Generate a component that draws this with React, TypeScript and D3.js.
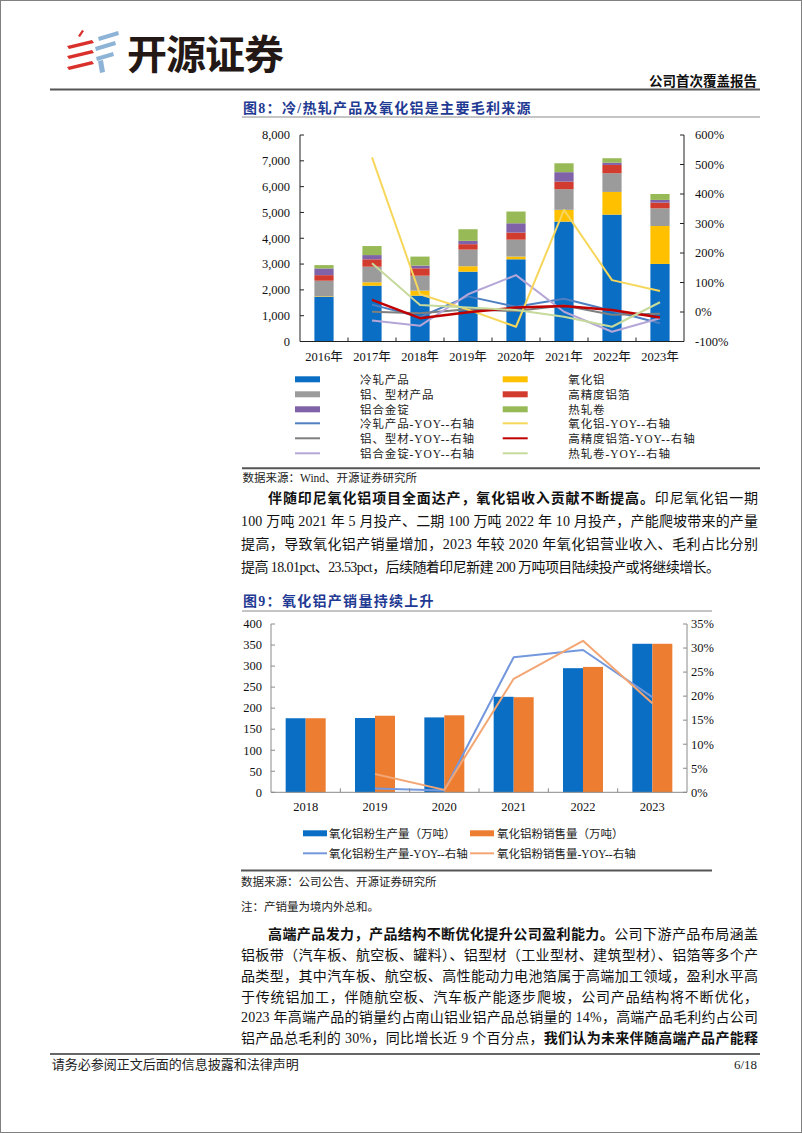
import React from 'react';
import * as d3 from 'd3';

const SERIF = "'Liberation Serif','Times New Roman','Noto Sans CJK SC',serif";
const CJK = "'Noto Sans CJK SC','Noto Sans CJK JP',sans-serif";

// ---------- Figure 8 data ----------
const years8 = ['2016年', '2017年', '2018年', '2019年', '2020年', '2021年', '2022年', '2023年'];
const coldRolled = [1735, 2163, 1775, 2705, 3185, 4645, 4915, 3005];
const alumina = [20, 130, 195, 210, 105, 455, 880, 1470];
const profile = [600, 605, 580, 645, 655, 800, 725, 685];
const foil = [215, 285, 285, 210, 275, 295, 320, 220];
const ingot = [260, 165, 105, 130, 360, 365, 90, 105];
const hotRolled = [130, 350, 350, 450, 455, 345, 170, 230];

const yoyCold = [null, 25, -17, 53, 18, 45, 4, -38];
const yoyAlumina = [null, 524, 60, 8, -50, 346, 108, 71];
const yoyProfile = [null, 1, -4, 9, 3, 22, -9, -6];
const yoyFoil = [null, 41, -21, -1, 15, 20, 7, -19];
const yoyIngot = [null, -29, -47, 60, 125, 1, -67, -21];
const yoyHot = [null, 165, 24, 15, 7, -16, -50, 33];

const leftTicks8 = [0, 1000, 2000, 3000, 4000, 5000, 6000, 7000, 8000];
const rightTicks8 = [-100, 0, 100, 200, 300, 400, 500, 600];

// ---------- Figure 9 data ----------
const years9 = ['2018', '2019', '2020', '2021', '2022', '2023'];
const production = [176, 176.5, 178, 227, 295, 353];
const sales = [176, 182, 183, 226, 298, 353];
const prodYoy = [null, 0.8, 0.4, 28.1, 29.6, 19.8];
const salesYoy = [null, 3.8, 0.5, 23.6, 31.5, 18.5];
const leftTicks9 = [0, 50, 100, 150, 200, 250, 300, 350, 400];
const rightTicks9 = [0, 5, 10, 15, 20, 25, 30, 35];

const C = {
  cold: '#0A6EC4', alumina: '#FFC000', profile: '#9B9B9B', foil: '#D23C2E', ingot: '#7F62A8', hot: '#97BA57',
  lCold: '#4D7FC2', lAlumina: '#F6D75C', lProfile: '#7F7F7F', lFoil: '#C00000', lIngot: '#B5A6D8', lHot: '#C6DA9C',
  blue9: '#0A6EC4', orange9: '#ED7D31', lBlue9: '#7498DD', lOrange9: '#F3A674',
};

const stackSeries = [
  { key: 'cold', name: '冷轧产品', values: coldRolled, color: C.cold },
  { key: 'alumina', name: '氧化铝', values: alumina, color: C.alumina },
  { key: 'profile', name: '铝、型材产品', values: profile, color: C.profile },
  { key: 'foil', name: '高精度铝箔', values: foil, color: C.foil },
  { key: 'ingot', name: '铝合金锭', values: ingot, color: C.ingot },
  { key: 'hot', name: '热轧卷', values: hotRolled, color: C.hot },
];
const lineSeries8 = [
  { name: '冷轧产品-YOY--右轴', values: yoyCold, color: C.lCold, w: 2 },
  { name: '铝、型材-YOY--右轴', values: yoyProfile, color: C.lProfile, w: 2 },
  { name: '铝合金锭-YOY--右轴', values: yoyIngot, color: C.lIngot, w: 2 },
  { name: '氧化铝-YOY--右轴', values: yoyAlumina, color: C.lAlumina, w: 2 },
  { name: '高精度铝箔-YOY--右轴', values: yoyFoil, color: C.lFoil, w: 2.5 },
  { name: '热轧卷-YOY--右轴', values: yoyHot, color: C.lHot, w: 2 },
];

type Seg = { t: string; b?: boolean };
type Line = { x: number; y: number; w: number; segs: Seg[] };

const para1: Line[] = [
  { x: 268, y: 503, w: 490, segs: [{ t: '伴随印尼氧化铝项目全面达产，氧化铝收入贡献不断提高。', b: true }, { t: '印尼氧化铝一期' }] },
  { x: 241, y: 526, w: 517, segs: [{ t: '100 万吨 2021 年 5 月投产、二期 100 万吨 2022 年 10 月投产，产能爬坡带来的产量' }] },
  { x: 241, y: 549, w: 517, segs: [{ t: '提高，导致氧化铝产销量增加，2023 年较 2020 年氧化铝营业收入、毛利占比分别' }] },
  { x: 241, y: 572, w: 479, segs: [{ t: '提高 18.01pct、23.53pct，后续随着印尼新建 200 万吨项目陆续投产或将继续增长。' }] },
];
const para2: Line[] = [
  { x: 268, y: 939, w: 490, segs: [{ t: '高端产品发力，产品结构不断优化提升公司盈利能力。', b: true }, { t: '公司下游产品布局涵盖' }] },
  { x: 241, y: 960, w: 517, segs: [{ t: '铝板带（汽车板、航空板、罐料）、铝型材（工业型材、建筑型材）、铝箔等多个产' }] },
  { x: 241, y: 981, w: 517, segs: [{ t: '品类型，其中汽车板、航空板、高性能动力电池箔属于高端加工领域，盈利水平高' }] },
  { x: 241, y: 1001.5, w: 517, segs: [{ t: '于传统铝加工，伴随航空板、汽车板产能逐步爬坡，公司产品结构将不断优化，' }] },
  { x: 241, y: 1022, w: 517, segs: [{ t: '2023 年高端产品的销量约占南山铝业铝产品总销量的 14%，高端产品毛利约占公司' }] },
  { x: 241, y: 1043, w: 517, segs: [{ t: '铝产品总毛利的 30%，同比增长近 9 个百分点，' }, { t: '我们认为未来伴随高端产品产能释', b: true }] },
];

function Para({ lines }: { lines: Line[] }) {
  return (
    <g fontFamily={SERIF} fontSize={14} fill="#111">
      {lines.map((l, i) => (
        <text key={i} x={l.x} y={l.y} textLength={l.w} lengthAdjust="spacing">
          {l.segs.map((s, j) => (
            <tspan key={j} fontWeight={s.b ? 700 : 400}>{s.t}</tspan>
          ))}
        </text>
      ))}
    </g>
  );
}

function Figure8() {
  const x = d3.scaleBand().domain(years8).range([300, 684]).padding(0);
  const y = d3.scaleLinear().domain([0, 8000]).range([341.5, 135]);
  const yr = d3.scaleLinear().domain([-100, 600]).range([341.5, 135]);
  const rows = years8.map((yr0, i) => {
    const r: any = { year: yr0 };
    stackSeries.forEach((s) => (r[s.key] = s.values[i]));
    return r;
  });
  const stacked = d3.stack().keys(stackSeries.map((s) => s.key))(rows);
  const bw = x.bandwidth() * 0.4;
  const cx = (d: string) => (x(d) as number) + x.bandwidth() / 2;
  const line = d3
    .line<number | null>()
    .defined((d) => d != null)
    .x((_, i) => cx(years8[i]))
    .y((d) => yr(d as number));
  const axisColor = '#222';
  const legendRowsY = [379.3, 394.3, 409.3, 423.3, 438.3, 453.3];
  const leftItems = [
    { kind: 'bar', ...stackSeries[0] },
    { kind: 'bar', ...stackSeries[2] },
    { kind: 'bar', ...stackSeries[4] },
    { kind: 'line', ...lineSeries8[0] },
    { kind: 'line', ...lineSeries8[1] },
    { kind: 'line', ...lineSeries8[2] },
  ];
  const rightItems = [
    { kind: 'bar', ...stackSeries[1] },
    { kind: 'bar', ...stackSeries[3] },
    { kind: 'bar', ...stackSeries[5] },
    { kind: 'line', ...lineSeries8[3] },
    { kind: 'line', ...lineSeries8[4] },
    { kind: 'line', ...lineSeries8[5] },
  ];
  const renderLegend = (items: any[], sx: number, tx: number) =>
    items.map((it, i) => (
      <g key={it.name}>
        {it.kind === 'bar' ? (
          <rect x={sx} y={legendRowsY[i] - 3} width={25} height={6} fill={it.color} />
        ) : (
          <line x1={sx} x2={sx + 25} y1={legendRowsY[i]} y2={legendRowsY[i]} stroke={it.color} strokeWidth={2} />
        )}
        <text x={tx} y={legendRowsY[i] + 4.2} fontFamily={SERIF} fontSize={11.5} letterSpacing={0.9} fill="#222">
          {it.name}
        </text>
      </g>
    ));
  return (
    <g>
      {stacked.map((layer, li) => (
        <g key={layer.key} fill={stackSeries[li].color}>
          {layer.map((d: any, i: number) => (
            <rect key={i} x={cx(years8[i]) - bw / 2} y={y(d[1])} width={bw} height={Math.max(0, y(d[0]) - y(d[1]))} />
          ))}
        </g>
      ))}
      {lineSeries8.map((s) => (
        <path key={s.name} d={line(s.values) || ''} fill="none" stroke={s.color} strokeWidth={s.w} strokeLinejoin="round" />
      ))}
      <line x1={300} x2={300} y1={135} y2={341.5} stroke={axisColor} />
      <line x1={684} x2={684} y1={135} y2={341.5} stroke={axisColor} />
      <line x1={300} x2={684} y1={341.5} y2={341.5} stroke={axisColor} />
      {leftTicks8.map((t) => (
        <g key={t}>
          <line x1={300} x2={304} y1={y(t)} y2={y(t)} stroke={axisColor} />
          <text x={290} y={y(t) + 4.3} textAnchor="end" fontFamily={SERIF} fontSize={12.5} fill="#111">
            {d3.format(',')(t)}
          </text>
        </g>
      ))}
      {rightTicks8.map((t) => (
        <g key={t}>
          <line x1={680} x2={684} y1={yr(t)} y2={yr(t)} stroke={axisColor} />
          <text x={695} y={yr(t) + 4.3} fontFamily={SERIF} fontSize={12.5} fill="#111">
            {t}%
          </text>
        </g>
      ))}
      {years8.map((d, i) => (
        <g key={d}>
          {i > 0 && <line x1={x(d)} x2={x(d)} y1={341.5} y2={337.5} stroke={axisColor} />}
          <text x={cx(d)} y={361} textAnchor="middle" fontFamily={SERIF} fontSize={12.5} fill="#111">
            {d}
          </text>
        </g>
      ))}
      {renderLegend(leftItems, 295, 360)}
      {renderLegend(rightItems, 502.7, 568.3)}
    </g>
  );
}

function Figure9() {
  const x = d3.scaleBand().domain(years9).range([271, 687]).padding(0);
  const inner = d3.scaleBand().domain(['p', 's']).range([0, 40]).padding(0);
  const y = d3.scaleLinear().domain([0, 400]).range([792.3, 624]);
  const yr = d3.scaleLinear().domain([0, 35]).range([792.3, 624]);
  const cx = (d: string) => (x(d) as number) + x.bandwidth() / 2;
  const line = d3
    .line<number | null>()
    .defined((d) => d != null)
    .x((_, i) => cx(years9[i]))
    .y((d) => yr(d as number));
  const ax = '#8a8a8a';
  const bars = [
    { k: 'p', values: production, color: C.blue9 },
    { k: 's', values: sales, color: C.orange9 },
  ];
  return (
    <g>
      {bars.map((b) => (
        <g key={b.k} fill={b.color}>
          {b.values.map((v, i) => (
            <rect key={i} x={cx(years9[i]) - 20 + (inner(b.k) as number)} y={y(v)} width={inner.bandwidth()} height={y(0) - y(v)} />
          ))}
        </g>
      ))}
      <path d={line(prodYoy) || ''} fill="none" stroke={C.lBlue9} strokeWidth={2} strokeLinejoin="round" />
      <path d={line(salesYoy) || ''} fill="none" stroke={C.lOrange9} strokeWidth={2} strokeLinejoin="round" />
      <line x1={271} x2={271} y1={624} y2={792.3} stroke={ax} />
      <line x1={687} x2={687} y1={624} y2={792.3} stroke={ax} />
      <line x1={271} x2={687} y1={792.3} y2={792.3} stroke={ax} />
      {leftTicks9.map((t) => (
        <g key={t}>
          <line x1={271} x2={275} y1={y(t)} y2={y(t)} stroke={ax} />
          <text x={262} y={y(t) + 4.3} textAnchor="end" fontFamily={SERIF} fontSize={12.5} fill="#111">
            {t}
          </text>
        </g>
      ))}
      {rightTicks9.map((t) => (
        <g key={t}>
          <line x1={683} x2={687} y1={yr(t)} y2={yr(t)} stroke={ax} />
          <text x={691} y={yr(t) + 4.3} fontFamily={SERIF} fontSize={12.5} fill="#111">
            {t}%
          </text>
        </g>
      ))}
      {years9.map((d, i) => (
        <g key={d}>
          {i > 0 && <line x1={x(d)} x2={x(d)} y1={792.3} y2={788.3} stroke={ax} />}
          <text x={cx(d)} y={811} textAnchor="middle" fontFamily={SERIF} fontSize={12.5} fill="#111">
            {d}
          </text>
        </g>
      ))}
      <g fontFamily={SERIF} fontSize={11.5} fill="#222">
        <rect x={303} y={830.3} width={24} height={6} fill={C.blue9} />
        <text x={329} y={837.5}>氧化铝粉生产量（万吨）</text>
        <rect x={470} y={830.3} width={24} height={6} fill={C.orange9} />
        <text x={497} y={837.5}>氧化铝粉销售量（万吨）</text>
        <line x1={303} x2={327} y1={853.3} y2={853.3} stroke={C.lBlue9} strokeWidth={2} />
        <text x={329} y={857.5}>氧化铝粉生产量-YOY--右轴</text>
        <line x1={470} x2={494} y1={853.3} y2={853.3} stroke={C.lOrange9} strokeWidth={2} />
        <text x={497} y={857.5}>氧化铝粉销售量-YOY--右轴</text>
      </g>
    </g>
  );
}

function Logo() {
  return (
    <g>
      <g fill="#D9302B">
        <polygon points="78,36 82,30 84,31 80,37" />
        <polygon points="67,46 92,40 94,43 69,49" />
        <polygon points="67,56 92,50 94,53 69,59" />
        <polygon points="67,67 92,61 94,64 69,70" />
      </g>
      <g fill="#8DB4D6">
        <polygon points="98,37 118,31 119,35 99,41" />
        <polygon points="95,47 115,41 116,45 96,51" />
        <polygon points="96,57 113,52 114,56 97,61" />
        <polygon points="98,61 103,60 105,72 100,73" />
      </g>
      <text x={127} y={69} fontFamily={CJK} fontWeight={700} fontSize={40} textLength={157} lengthAdjust="spacing" fill="#231815">
        开源证券
      </text>
    </g>
  );
}

export default function App() {
  React.useEffect(() => {
    document.body.style.margin = '0';
  }, []);
  return (
    <svg width={802} height={1133} viewBox="0 0 802 1133" style={{ position: 'absolute', left: 0, top: 0, background: '#fff' }}>
      <rect x={0} y={0} width={802} height={1133} fill="#fff" />
      <Logo />
      <text x={757} y={86} textAnchor="end" fontFamily={CJK} fontWeight={700} fontSize={13.5} fill="#111">
        公司首次覆盖报告
      </text>
      <line x1={50} x2={760} y1={89.5} y2={89.5} stroke="#555" strokeWidth={2} />

      <text x={243} y={113} fontFamily={SERIF} fontWeight={700} fontSize={14} letterSpacing={1.3} fill="#1F3A93">
        图8：冷/热轧产品及氧化铝是主要毛利来源
      </text>
      <line x1={242} x2={760} y1={117} y2={117} stroke="#8a8a8a" strokeWidth={1} />
      <Figure8 />
      <line x1={242} x2={760} y1={468.3} y2={468.3} stroke="#555" strokeWidth={2} />
      <text x={242.5} y={481.5} fontFamily={SERIF} fontSize={11.5} fill="#222">
        数据来源：Wind、开源证券研究所
      </text>

      <Para lines={para1} />

      <text x={243} y={606} fontFamily={SERIF} fontWeight={700} fontSize={14} letterSpacing={1.3} fill="#1F3A93">
        图9：氧化铝产销量持续上升
      </text>
      <line x1={242} x2={712} y1={611} y2={611} stroke="#8a8a8a" strokeWidth={1} />
      <Figure9 />
      <line x1={241} x2={712} y1={870.5} y2={870.5} stroke="#555" strokeWidth={2} />
      <text x={241} y={886} fontFamily={SERIF} fontSize={11.5} fill="#222">
        数据来源：公司公告、开源证券研究所
      </text>
      <text x={241} y={911} fontFamily={SERIF} fontSize={11.5} fill="#222">
        注：产销量为境内外总和。
      </text>

      <Para lines={para2} />

      <line x1={50} x2={760} y1={1054} y2={1054} stroke="#333" strokeWidth={1.5} />
      <text x={51.7} y={1069} fontFamily={SERIF} fontSize={13} fill="#222">
        请务必参阅正文后面的信息披露和法律声明
      </text>
      <text x={757} y={1069} textAnchor="end" fontFamily={SERIF} fontSize={13} fill="#222">
        6/18
      </text>
      <rect x={0.5} y={0.5} width={801} height={1132} fill="none" stroke="#808080" strokeWidth={1} />
    </svg>
  );
}
